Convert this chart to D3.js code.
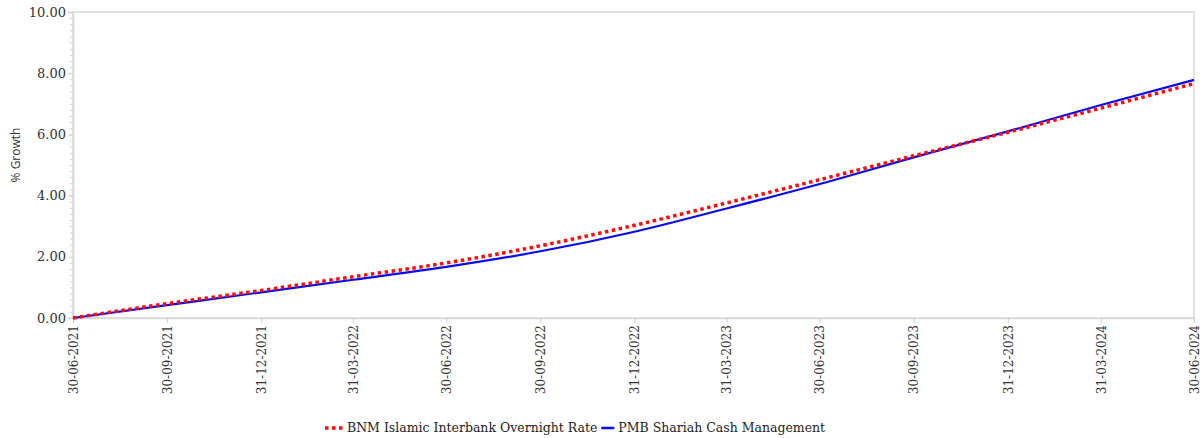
<!DOCTYPE html>
<html>
<head>
<meta charset="utf-8">
<script src="https://cdn.jsdelivr.net/npm/d3@7"></script>
<style>
  body { margin: 0; background: #fff; }
  svg text { font-family: "DejaVu Serif", "Liberation Serif", serif; }
</style>
</head>
<body>
<div id="chart"></div>
<script>
// quarter end dates and % growth
var dates = ["2021-06-30", "2021-09-30", "2021-12-31", "2022-03-31", "2022-06-30", "2022-09-30",
             "2022-12-31", "2023-03-31", "2023-06-30", "2023-09-30", "2023-12-31", "2024-03-31", "2024-06-30"];
var bnmValues = [0, 0.47, 0.90, 1.35, 1.80, 2.36, 3.03, 3.76, 4.52, 5.30, 6.07, 6.86, 7.66];
var pmbValues = [0, 0.42, 0.84, 1.25, 1.67, 2.18, 2.82, 3.58, 4.38, 5.25, 6.10, 6.96, 7.78];
var yTicks = [0, 2, 4, 6, 8, 10];
var seriesNames = ["BNM Islamic Interbank Overnight Rate", "PMB Shariah Cash Management"];

var margin = {top: 12, right: 9, bottom: 120, left: 73},
    width = 1203 - margin.left - margin.right,
    height = 438 - margin.top - margin.bottom;

var parse = d3.timeParse("%Y-%m-%d");
var fmt = d3.timeFormat("%d-%m-%Y");

var svg = d3.select("#chart")
    .append("svg")
    .attr("width", 1203)
    .attr("height", 438);

var g = svg.append("g")
    .attr("transform", `translate(${margin.left}, ${margin.top})`);

var x = d3.scaleTime()
    .domain([parse(dates[0]), parse(dates[dates.length - 1])])
    .range([0, width]);

var y = d3.scaleLinear()
    .domain([0, 10])
    .range([height, 0]);

// frame
g.append("rect")
    .attr("width", width)
    .attr("height", height)
    .attr("fill", "none")
    .attr("stroke", "#d9d9d9")
    .attr("stroke-width", 1.5);

// minor y ticks
g.append("g")
    .call(d3.axisLeft(y).ticks(50).tickSize(3).tickFormat(""))
    .call(s => s.select(".domain").remove())
    .selectAll("line").attr("stroke", "#cfcfcf");

// y axis
var yAxis = g.append("g")
    .call(d3.axisLeft(y).tickValues(yTicks).tickSize(5).tickFormat(d3.format(".2f")));
yAxis.select(".domain").attr("stroke", "#d9d9d9").attr("stroke-width", 1.5);
yAxis.selectAll("line").attr("stroke", "#cfcfcf");
yAxis.selectAll("text")
    .attr("fill", "#333")
    .attr("font-size", "13px")
    .attr("x", -7);

// x axis
var xAxis = g.append("g")
    .attr("transform", `translate(0, ${height})`)
    .call(d3.axisBottom(x).tickValues(dates.map(parse)).tickSize(5).tickFormat(fmt));
xAxis.select(".domain").attr("stroke", "#d9d9d9").attr("stroke-width", 1.5);
xAxis.selectAll("line").attr("stroke", "#cfcfcf");
xAxis.selectAll("text")
    .attr("fill", "#333")
    .attr("font-size", "12px")
    .attr("text-anchor", "end")
    .attr("transform", "rotate(-90)")
    .attr("x", -7)
    .attr("y", 0)
    .attr("dy", "0.35em");

// y label
g.append("text")
    .attr("transform", "rotate(-90)")
    .attr("x", -height / 2 + 10)
    .attr("y", -53)
    .attr("text-anchor", "middle")
    .attr("fill", "#333")
    .style("font-family", "'Open Sans', sans-serif")
    .attr("font-size", "12px")
    .text("% Growth");

var line = d3.line()
    .x((d, i) => x(parse(dates[i])))
    .y(d => y(d))
    .curve(d3.curveMonotoneX);

g.append("path")
    .datum(pmbValues)
    .attr("fill", "none")
    .attr("stroke", "#0a0af0")
    .attr("stroke-width", 2.2)
    .attr("d", line);

g.append("path")
    .datum(bnmValues)
    .attr("fill", "none")
    .attr("stroke", "#ff0a0a")
    .attr("stroke-width", 3.5)
    .attr("stroke-dasharray", "3.5,3.5")
    .attr("d", line);

// legend
var legend = svg.append("g").attr("transform", "translate(325, 428)");
legend.append("line")
    .attr("x1", 0).attr("x2", 20).attr("y1", 0).attr("y2", 0)
    .attr("stroke", "#ff0a0a").attr("stroke-width", 3.5)
    .attr("stroke-dasharray", "3.5,3.5");
var t1 = legend.append("text")
    .attr("x", 22).attr("dy", "0.35em")
    .attr("font-size", "12.5px").attr("fill", "#222")
    .text(seriesNames[0]);
var x2 = 22 + t1.node().getComputedTextLength() + 4;
legend.append("line")
    .attr("x1", x2).attr("x2", x2 + 13).attr("y1", 0).attr("y2", 0)
    .attr("stroke", "#0a0af0").attr("stroke-width", 2.5);
legend.append("text")
    .attr("x", x2 + 17).attr("dy", "0.35em")
    .attr("font-size", "12.5px").attr("fill", "#222")
    .text(seriesNames[1]);
</script>
</body>
</html>
